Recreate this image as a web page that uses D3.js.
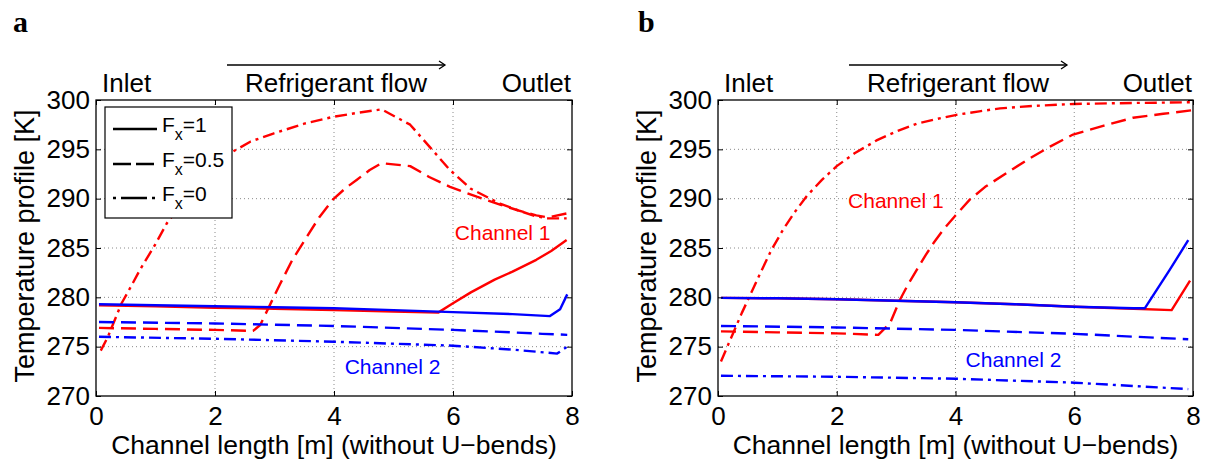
<!DOCTYPE html>
<html>
<head>
<meta charset="utf-8">
<script src="https://cdn.jsdelivr.net/npm/d3@7"></script>
<style>
  html, body { margin: 0; padding: 0; background: #fff; }
  svg { display: block; }
  text { font-family: "Liberation Sans", Arial, Helvetica, sans-serif; }
</style>
</head>
<body>
<svg id="chart" width="1208" height="464"></svg>
<script>
// ---------- data ----------
const xTicks = [0, 2, 4, 6, 8];
const yTicks = [270, 275, 280, 285, 290, 295, 300];
const xDomain = [0, 8];
const yDomain = [270, 300];
const legendLabels = ["1", "0.5", "0"];

// Panel a  (Channel 1 = red, Channel 2 = blue)
const aCh1Fx1 = [[0.05,279.2],[1,279.1],[2,278.95],[3,278.85],[4,278.7],[5,278.55],[5.75,278.45],[6.0,279.4],[6.3,280.5],[6.7,281.8],[7.0,282.6],[7.4,283.8],[7.65,284.7],[7.91,285.8]];
const aCh2Fx1 = [[0.05,279.3],[1,279.2],[2,279.1],[3,279.0],[4,278.9],[5,278.7],[6,278.5],[7,278.3],[7.63,278.1],[7.8,278.8],[7.92,280.3]];
const aCh1Fx05 = [[0.05,276.9],[1,276.8],[2,276.7],[2.64,276.6],[2.76,277.2],[3.09,281.3],[3.3,283.8],[3.54,286.1],[3.75,288.1],[3.98,289.9],[4.2,291.1],[4.38,291.9],[4.6,292.9],[4.8,293.6],[5.28,293.3],[5.6,292.2],[5.95,291.2],[6.4,290.2],[6.79,289.4],[7.1,288.8],[7.4,288.3],[7.6,288.1],[7.91,288.5]];
const aCh2Fx05 = [[0.05,277.5],[2,277.35],[4,277.1],[6,276.7],[7,276.45],[7.5,276.3],[7.92,276.2]];
const aCh1Fx0 = [[0.08,274.6],[0.2,276.0],[0.43,279.4],[0.57,280.9],[0.74,282.8],[1.0,285.4],[1.19,287.5],[1.5,290.0],[2.0,293.0],[2.31,294.8],[2.6,295.8],[2.98,296.6],[3.5,297.6],[3.99,298.3],[4.4,298.7],[4.8,299.05],[5.28,297.5],[5.6,295.3],[5.95,292.9],[6.3,291.0],[6.79,289.5],[7.1,288.8],[7.4,288.2],[7.6,288.0],[7.91,288.0]];
const aCh2Fx0 = [[0.05,276.0],[2,275.8],[4,275.5],[6,275.1],[7,274.7],[7.75,274.3],[7.92,275.0]];

// Panel b
const bCh1Fx1 = [[0.05,279.95],[1,279.9],[2,279.8],[3,279.65],[4,279.5],[5,279.3],[6,279.05],[7,278.85],[7.64,278.7],[7.95,281.7]];
const bCh2Fx1 = [[0.05,279.95],[1,279.9],[2,279.8],[3,279.65],[4,279.5],[5,279.3],[6,279.05],[7,278.9],[7.19,278.9],[7.61,282.8],[7.92,285.8]];
const bCh1Fx05 = [[0.05,276.55],[1,276.45],[2,276.35],[2.7,276.2],[2.9,277.4],[3.06,279.7],[3.2,281.3],[3.35,282.8],[3.5,284.3],[3.63,285.5],[3.8,286.9],[4.0,288.3],[4.24,289.9],[4.5,291.2],[4.86,292.6],[5.2,293.9],[5.6,295.3],[5.98,296.5],[6.5,297.4],[6.99,298.2],[7.5,298.6],[7.97,298.95]];
const bCh2Fx05 = [[0.05,277.1],[2,276.95],[4,276.7],[6,276.3],[7.92,275.75]];
const bCh1Fx0 = [[0.05,273.5],[0.2,275.6],[0.4,278.4],[0.54,280.2],[0.7,282.3],[0.9,284.8],[1.1,286.9],[1.3,288.7],[1.5,290.3],[1.75,291.9],[2.0,293.3],[2.3,294.6],[2.67,295.9],[3.0,296.8],[3.35,297.6],[3.7,298.1],[4.02,298.5],[4.4,298.85],[4.75,299.15],[5.3,299.4],[6.0,299.6],[7.0,299.7],[7.97,299.77]];
const bCh2Fx0 = [[0.05,272.05],[2,271.95],[4,271.75],[6,271.35],[7.92,270.7]];

// ---------- styles ----------
const RED = "#ff0000", BLUE = "#0000ff";
const DASH = { solid: null, dashed: "15,7", dashdot: "12,5,3,5" };
const FONT_TICK = 26, FONT_LABEL = 26.5, FONT_TOP = 26;

const svg = d3.select("#chart");
svg.append("rect").attr("width", 1208).attr("height", 464).attr("fill", "#fff");

function drawPanel(cfg) {
  const x = d3.scaleLinear().domain(xDomain).range([cfg.left, cfg.right]);
  const y = d3.scaleLinear().domain(yDomain).range([cfg.bottom, cfg.top]);
  const g = svg.append("g");

  // grid
  g.append("g").selectAll("line.gx").data(xTicks.slice(1, -1)).join("line")
    .attr("x1", d => x(d)).attr("x2", d => x(d))
    .attr("y1", cfg.top).attr("y2", cfg.bottom)
    .attr("stroke", "#8a8a8a").attr("stroke-width", 1).attr("stroke-dasharray", "1,3");
  g.append("g").selectAll("line.gy").data(yTicks.slice(1, -1)).join("line")
    .attr("x1", cfg.left).attr("x2", cfg.right)
    .attr("y1", d => y(d)).attr("y2", d => y(d))
    .attr("stroke", "#8a8a8a").attr("stroke-width", 1).attr("stroke-dasharray", "1,3");

  // series
  const line = d3.line().x(d => x(d[0])).y(d => y(d[1]));
  const clipId = "clip" + cfg.name;
  svg.append("clipPath").attr("id", clipId).append("rect")
    .attr("x", cfg.left).attr("y", cfg.top - 2)
    .attr("width", cfg.right - cfg.left).attr("height", cfg.bottom - cfg.top + 2);
  const sg = g.append("g").attr("clip-path", `url(#${clipId})`);
  cfg.series.forEach(s => {
    sg.append("path").datum(s.data)
      .attr("d", line)
      .attr("fill", "none")
      .attr("stroke", s.color)
      .attr("stroke-width", 2.4)
      .attr("stroke-linejoin", "round")
      .attr("stroke-dasharray", DASH[s.style]);
  });

  // axes (inward ticks on all sides)
  const ax = g.append("g").attr("transform", `translate(0,${cfg.bottom})`)
    .call(d3.axisBottom(x).tickValues(xTicks).tickSize(-5).tickSizeOuter(0).tickPadding(11));
  const ay = g.append("g").attr("transform", `translate(${cfg.left},0)`)
    .call(d3.axisLeft(y).tickValues(yTicks).tickSize(-5).tickSizeOuter(0).tickPadding(6));
  g.append("g").attr("transform", `translate(0,${cfg.top})`)
    .call(d3.axisTop(x).tickValues(xTicks).tickSize(-5).tickSizeOuter(0).tickFormat(""));
  g.append("g").attr("transform", `translate(${cfg.right},0)`)
    .call(d3.axisRight(y).tickValues(yTicks).tickSize(-5).tickSizeOuter(0).tickFormat(""));
  g.selectAll(".domain").remove();
  g.selectAll(".tick line").attr("stroke", "#000").attr("stroke-width", 1);
  ax.selectAll("text").attr("font-size", FONT_TICK).attr("fill", "#000")
    .style("font-family", '"Liberation Sans", Arial, sans-serif');
  ay.selectAll("text").attr("font-size", FONT_TICK).attr("fill", "#000")
    .style("font-family", '"Liberation Sans", Arial, sans-serif');

  g.append("rect").attr("x", cfg.left).attr("y", cfg.top)
    .attr("width", cfg.right - cfg.left).attr("height", cfg.bottom - cfg.top)
    .attr("fill", "none").attr("stroke", "#000").attr("stroke-width", 1.3);

  // axis labels
  g.append("text").attr("x", (cfg.left + cfg.right) / 2).attr("y", 454)
    .attr("text-anchor", "middle").attr("font-size", FONT_LABEL)
    .text("Channel length [m] (without U\u2212bends)");
  g.append("text").attr("transform", `translate(${cfg.left - 62},246) rotate(-90)`)
    .attr("text-anchor", "middle").attr("font-size", FONT_LABEL + 0.5)
    .text("Temperature profile [K]");

  // top annotations
  g.append("text").attr("x", cfg.left + 6).attr("y", 92).attr("font-size", FONT_TOP).text("Inlet");
  g.append("text").attr("x", cfg.left + 149).attr("y", 92).attr("font-size", FONT_TOP).text("Refrigerant flow");
  g.append("text").attr("x", cfg.right - 1).attr("y", 92).attr("text-anchor", "end").attr("font-size", FONT_TOP).text("Outlet");
  const ax0 = cfg.left + 131, ax1 = cfg.left + 349, ay0 = 65;
  g.append("line").attr("x1", ax0).attr("x2", ax1).attr("y1", ay0).attr("y2", ay0)
    .attr("stroke", "#000").attr("stroke-width", 1.3);
  g.append("path").attr("d", `M${ax1 - 6},${ay0 - 4}L${ax1},${ay0}L${ax1 - 6},${ay0 + 4}`)
    .attr("fill", "none").attr("stroke", "#000").attr("stroke-width", 1.3);

  // panel letter
  g.append("text").attr("x", cfg.letterX).attr("y", 32)
    .attr("font-size", 30).attr("font-weight", "bold")
    .style("font-family", '"Liberation Serif", "Times New Roman", serif')
    .text(cfg.name);

  // channel labels
  cfg.labels.forEach(l => {
    g.append("text").attr("x", x(l.x)).attr("y", y(l.y))
      .attr("font-size", 21).attr("fill", l.color).text(l.text);
  });

  return { g, x, y };
}

const pa = drawPanel({
  name: "a", left: 96, right: 572, top: 100, bottom: 396, letterX: 13,
  series: [
    { data: aCh1Fx0, color: RED, style: "dashdot" },
    { data: aCh1Fx05, color: RED, style: "dashed" },
    { data: aCh1Fx1, color: RED, style: "solid" },
    { data: aCh2Fx05, color: BLUE, style: "dashed" },
    { data: aCh2Fx0, color: BLUE, style: "dashdot" },
    { data: aCh2Fx1, color: BLUE, style: "solid" }
  ],
  labels: [
    { text: "Channel 1", color: RED, x: 6.03, y: 285.8 },
    { text: "Channel 2", color: BLUE, x: 4.18, y: 272.2 }
  ]
});

const pb = drawPanel({
  name: "b", left: 718, right: 1193, top: 100, bottom: 396, letterX: 638,
  series: [
    { data: bCh1Fx0, color: RED, style: "dashdot" },
    { data: bCh1Fx05, color: RED, style: "dashed" },
    { data: bCh1Fx1, color: RED, style: "solid" },
    { data: bCh2Fx05, color: BLUE, style: "dashed" },
    { data: bCh2Fx0, color: BLUE, style: "dashdot" },
    { data: bCh2Fx1, color: BLUE, style: "solid" }
  ],
  labels: [
    { text: "Channel 1", color: RED, x: 2.19, y: 289.1 },
    { text: "Channel 2", color: BLUE, x: 4.17, y: 272.9 }
  ]
});

// legend (panel a)
const lg = pa.g.append("g");
lg.append("rect").attr("x", 105).attr("y", 107).attr("width", 127).attr("height", 111)
  .attr("fill", "#fff").attr("stroke", "#000").attr("stroke-width", 1.2);
const legendRowY = [129, 164, 198];
legendLabels.forEach((lab, i) => {
  const yy = legendRowY[i];
  lg.append("line").attr("x1", 113).attr("x2", 157).attr("y1", yy).attr("y2", yy)
    .attr("stroke", "#000").attr("stroke-width", 2.3)
    .attr("stroke-dasharray", i === 1 ? "18,5" : (i === 2 ? "3,5,26,5,3" : null));
  const t = lg.append("text").attr("x", 162).attr("y", yy + 3).attr("font-size", 21);
  t.append("tspan").text("F");
  t.append("tspan").attr("dy", 8).attr("font-size", 16).text("x");
  t.append("tspan").attr("dy", -8).text("=" + lab);
});
</script>
</body>
</html>
